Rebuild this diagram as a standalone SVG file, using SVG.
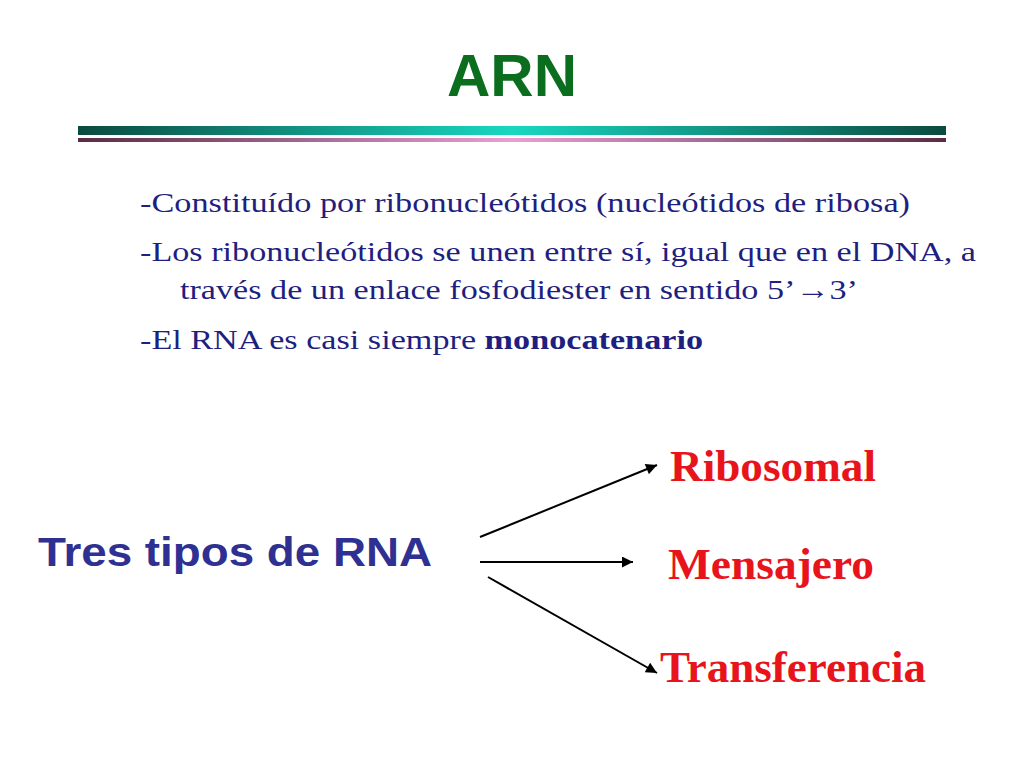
<svg xmlns="http://www.w3.org/2000/svg" width="1024" height="768" viewBox="0 0 1024 768">
<defs>
<linearGradient id="g1" x1="0" x2="1" y1="0" y2="0"><stop offset="0" stop-color="#0b4a40"/><stop offset="0.5" stop-color="#18d8c0"/><stop offset="1" stop-color="#0b4a40"/></linearGradient>
<linearGradient id="g2" x1="0" x2="1" y1="0" y2="0"><stop offset="0" stop-color="#5a2a48"/><stop offset="0.5" stop-color="#e8a0d0"/><stop offset="1" stop-color="#5a2a48"/></linearGradient>
<marker id="ah" viewBox="0 0 10 10" refX="10" refY="5" markerWidth="13" markerHeight="11" markerUnits="userSpaceOnUse" orient="auto"><path d="M0,0 L10,5 L0,10 z" fill="#000"/></marker>
</defs>
<style>
.b{font-family:"Liberation Serif","Times New Roman",serif;font-size:28px;fill:#1f1f80}
.r{font-family:"Liberation Serif","Times New Roman",serif;font-size:44px;font-weight:bold;fill:#e8141c}
.c line{stroke:#000;stroke-width:2;marker-end:url(#ah)}
</style>
<rect width="1024" height="768" fill="#fff"/>
<text x="512" y="96" text-anchor="middle" font-family="Liberation Sans,sans-serif" font-size="60" font-weight="bold" fill="#0a6e1e">ARN</text>
<rect x="78" y="126" width="868" height="9" fill="url(#g1)"/>
<rect x="78" y="138" width="868" height="4" fill="url(#g2)"/>
<text class="b" x="140" y="212" textLength="770" lengthAdjust="spacingAndGlyphs">-Constituído por ribonucleótidos (nucleótidos de ribosa)</text>
<text class="b" x="140" y="261" textLength="836" lengthAdjust="spacingAndGlyphs">-Los ribonucleótidos se unen entre sí, igual que en el DNA, a</text>
<text class="b" x="180" y="299" textLength="678" lengthAdjust="spacingAndGlyphs">través de un enlace fosfodiester en sentido 5’→3’</text>
<text class="b" x="140" y="349" textLength="563" lengthAdjust="spacingAndGlyphs">-El RNA es casi siempre <tspan font-weight="bold">monocatenario</tspan></text>
<g id="tres"><text x="38" y="566" font-family="Liberation Sans,sans-serif" font-size="40" font-weight="bold" fill="#2e3192" textLength="394" lengthAdjust="spacingAndGlyphs">Tres tipos de RNA</text></g>
<g id="ribosomal"><text class="r" x="670" y="481" textLength="206" lengthAdjust="spacingAndGlyphs">Ribosomal</text></g>
<g id="mensajero"><text class="r" x="668" y="579" textLength="206" lengthAdjust="spacingAndGlyphs">Mensajero</text></g>
<g id="transferencia"><text class="r" x="660" y="682" textLength="266" lengthAdjust="spacingAndGlyphs">Transferencia</text></g>
<g class="c">
<line x1="480" y1="537" x2="657" y2="465"/>
<line x1="480" y1="562" x2="633" y2="562"/>
<line x1="488" y1="577" x2="657" y2="673"/>
</g>
</svg>
